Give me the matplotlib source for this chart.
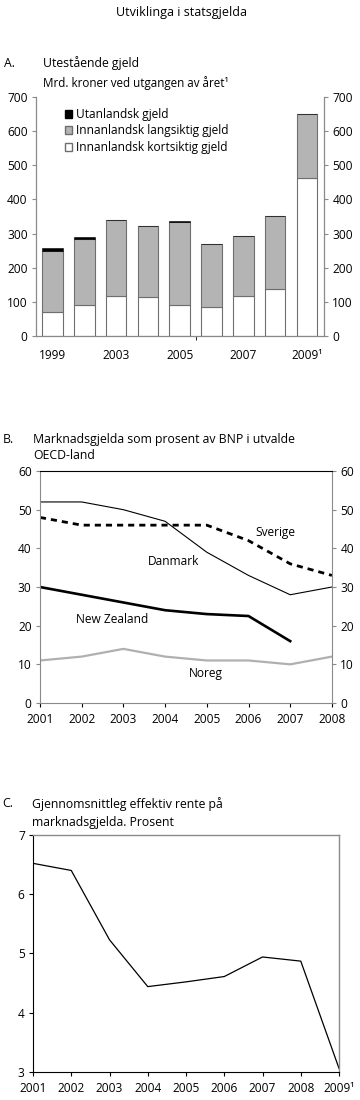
import matplotlib
matplotlib.use("Agg")
import matplotlib.pyplot as plt
from matplotlib.patches import Patch

plt.rcParams["font.family"] = ["Open Sans", "DejaVu Sans"]
plt.rcParams["font.size"] = 8.6

# --- Panel A: outstanding debt, bn NOK ---
bar_labels = ["1999", "", "2003", "", "2005", "", "2007", "", "2009¹"]
short_dom = [71, 91, 116, 113, 91, 85, 116, 138, 464]
long_dom = [179, 194, 224, 209, 244, 185, 177, 213, 187]
foreign = [9, 5, 0, 0, 1, 0, 0, 0, 0]

# --- Panel B: market debt as % of GDP ---
years_b = [2001, 2002, 2003, 2004, 2005, 2006, 2007, 2008]
danmark = [52, 52, 50, 47, 39, 33, 28, 30]
sverige = [48, 46, 46, 46, 46, 42, 36, 33]
new_zealand = [30, 28, 26, 24, 23, 22.5, 16]
noreg = [11, 12, 14, 12, 11, 11, 10, 12]

# --- Panel C: average effective interest rate ---
years_c = ["2001", "2002", "2003", "2004", "2005", "2006", "2007", "2008", "2009¹"]
rente = [6.52, 6.40, 5.23, 4.44, 4.52, 4.61, 4.94, 4.87, 3.06]

GRID_GREY = "#8a8a8a"
FILL_GREY = "#b4b4b4"
EDGE_GREY = "#6e6e6e"
TITLE_FS = 8.8

fig = plt.figure(figsize=(3.6, 11), dpi=100)
fig.text(0.505, 0.989, "Utviklinga i statsgjelda", ha="center", va="center", fontsize=9)

# ---------------- A ----------------
axA = fig.add_axes([0.1, 0.6945, 0.8, 0.2173])
x = list(range(len(short_dom)))
bottom2 = [s + l for s, l in zip(short_dom, long_dom)]
axA.bar(x, short_dom, width=0.65, color="white", edgecolor=EDGE_GREY, linewidth=0.8)
axA.bar(x, long_dom, bottom=short_dom, width=0.65, color=FILL_GREY,
        edgecolor=EDGE_GREY, linewidth=0.8)
axA.bar(x, foreign, bottom=bottom2, width=0.65, color="black",
        edgecolor="black", linewidth=0.4)
axA.set_xlim(-0.52, 8.54)
axA.set_ylim(0, 700)
axA.set_yticks(range(0, 701, 100))
axA.set_xticks(x)
axA.set_xticklabels(bar_labels)
axA.tick_params(axis="x", length=0, pad=9)
axA.set_xticks([4.5], minor=True)
axA.tick_params(axis="x", which="minor", length=3, color="black")
axA.tick_params(axis="y", length=3, color=GRID_GREY, labelright=True, right=True, pad=3)
axA.spines["top"].set_visible(False)
for s in ["left", "right", "bottom"]:
    axA.spines[s].set_color(GRID_GREY)
    axA.spines[s].set_linewidth(0.9)
handles = [Patch(facecolor="black", edgecolor="black", label="Utanlandsk gjeld"),
           Patch(facecolor=FILL_GREY, edgecolor=EDGE_GREY, label="Innanlandsk langsiktig gjeld"),
           Patch(facecolor="white", edgecolor=EDGE_GREY, label="Innanlandsk kortsiktig gjeld")]
axA.legend(handles=handles, loc="upper left", bbox_to_anchor=(0.07, 0.99), frameon=False,
           handlelength=0.65, handleheight=0.65, handletextpad=0.35, labelspacing=0.3,
           borderaxespad=0.3, fontsize=8.6)
fig.text(0.012, 0.9427, "A.", ha="left", va="center", fontsize=TITLE_FS)
fig.text(0.12, 0.9427, "Utestående gjeld", ha="left", va="center", fontsize=TITLE_FS)
fig.text(0.12, 0.9245, "Mrd. kroner ved utgangen av året¹", ha="left", va="center", fontsize=8.4)

# ---------------- B ----------------
axB = fig.add_axes([0.111, 0.3609, 0.811, 0.2109])
axB.plot(years_b, danmark, color="black", linewidth=0.8)
axB.plot(years_b, sverige, color="black", linewidth=2.0, linestyle=(0, (2.2, 1.8)))
axB.plot(years_b[:len(new_zealand)], new_zealand, color="black", linewidth=1.9)
axB.plot(years_b, noreg, color="#b0b0b0", linewidth=1.6)
axB.text(2006.65, 44.2, "Sverige", ha="center", va="center")
axB.text(2004.2, 36.5, "Danmark", ha="center", va="center")
axB.text(2002.72, 21.6, "New Zealand", ha="center", va="center")
axB.text(2004.97, 7.6, "Noreg", ha="center", va="center")
axB.set_xlim(2001, 2008)
axB.set_ylim(0, 60)
axB.set_xticks(years_b)
axB.set_yticks(range(0, 61, 10))
axB.tick_params(axis="x", length=3, pad=4)
axB.tick_params(axis="y", length=3, labelright=True, right=True, pad=3)
axB.tick_params(axis="y", which="both", color=GRID_GREY)
for s in ["left", "right"]:
    axB.spines[s].set_color(GRID_GREY)
axB.spines["bottom"].set_color(GRID_GREY)
axB.spines["top"].set_color("black")
fig.text(0.008, 0.6005, "B.", ha="left", va="center", fontsize=TITLE_FS)
fig.text(0.092, 0.6005, "Marknadsgjelda som prosent av BNP i utvalde", ha="left", va="center", fontsize=TITLE_FS)
fig.text(0.092, 0.5855, "OECD-land", ha="left", va="center", fontsize=TITLE_FS)

# ---------------- C ----------------
axC = fig.add_axes([0.0917, 0.0255, 0.85, 0.2155])
xc = list(range(len(rente)))
axC.plot(xc, rente, color="black", linewidth=0.9)
axC.set_xlim(0, len(rente) - 1)
axC.set_ylim(3, 7)
axC.set_xticks(xc)
axC.set_xticklabels(years_c)
axC.set_yticks(range(3, 8))
axC.tick_params(axis="x", length=3, pad=4)
axC.tick_params(axis="y", length=3, pad=3)
for s in ["top", "right"]:
    axC.spines[s].set_color(GRID_GREY)
    axC.spines[s].set_linewidth(1.0)
fig.text(0.006, 0.2695, "C.", ha="left", va="center", fontsize=TITLE_FS)
fig.text(0.088, 0.2695, "Gjennomsnittleg effektiv rente på", ha="left", va="center", fontsize=TITLE_FS)
fig.text(0.088, 0.2527, "marknadsgjelda. Prosent", ha="left", va="center", fontsize=TITLE_FS)

fig.savefig("out.png", dpi=100)
